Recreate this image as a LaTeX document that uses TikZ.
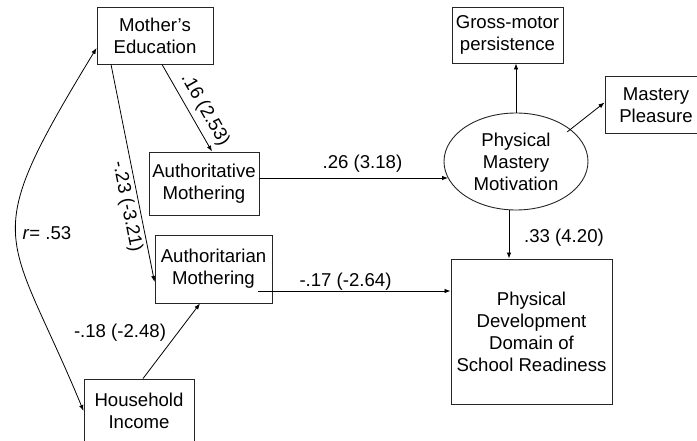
\documentclass[tikz,border=0pt]{standalone}
\usepackage{fontspec}
\setmainfont{Liberation Sans}
\usetikzlibrary{arrows.meta,shapes.geometric}
\begin{document}
\begin{tikzpicture}[x=1pt,y=-1pt,
  every node/.style={font=\fontsize{18.6}{22}\selectfont},
  box/.style={draw=black!85,line width=0.9pt,rectangle,inner sep=0pt,align=center},
  lbl/.style={inner sep=0pt},
  arr/.style={draw=black,line width=0.8pt,-{Latex[length=6pt,width=4.5pt]}},
  ln/.style={draw=black,line width=0.8pt}]
\clip (0,0) rectangle (697,441);
\fill[white] (0,0) rectangle (697,441);
% nodes
\node[box,minimum width=116pt,minimum height=57pt] (me) at (155,35.5) {Mother’s\\Education};
\node[box,minimum width=110pt,minimum height=63pt] (ative) at (204,183.5) {Authoritative\\Mothering};
\node[box,minimum width=117pt,minimum height=68pt] (arian) at (213.5,269) {Authoritarian\\Mothering};
\node[box,minimum width=110pt,minimum height=64pt] (hh) at (139,411) {Household\\Income};
\node[box,minimum width=111pt,minimum height=56pt] (gm) at (507.5,35) {Gross-motor\\persistence};
\node[box,minimum width=102pt,minimum height=57pt] (mp) at (656,105) {Mastery\\Pleasure};
\node[draw=black!85,line width=0.9pt,ellipse,inner sep=0pt,minimum width=144pt,minimum height=97pt,align=center] (pmm) at (516,161.5) {Physical\\Mastery\\Motivation};
\node[box,minimum width=161pt,minimum height=145pt] (pd) at (531.5,331.5) {Physical\\Development\\Domain of\\School Readiness};
% helper coordinates
\coordinate (a1) at (258,291);
\coordinate (b1) at (259,178);
\coordinate (b2) at (448,178);
% connectors
\draw[arr] ([xshift=7pt]me.south) -- ([xshift=8pt]ative.north);
\draw[arr] ([xshift=-44pt]me.south) -- ([yshift=-13pt]arian.west);
\draw[arr] ([xshift=4pt]hh.north) -- ([xshift=-13.5pt]arian.south);
\draw[arr] (b1) -- (b2);
\draw[arr] (a1) -- (a1 -| pd.west);
\draw[arr] (pmm.north) -- (pmm.north |- gm.south);
\draw[arr] ([yshift=-5pt]pmm.north east) -- ([yshift=2.5pt]mp.west);
\draw[arr] ([xshift=-7pt]pmm.south) -- ([xshift=-7pt]pmm.south |- pd.north);
\draw[line width=0.8pt,{Latex[length=6pt,width=4.5pt]}-{Latex[length=6pt,width=4.5pt]}] (hh.west) .. controls (7,226) and (-24,246) .. ([yshift=-12.5pt]me.west);
% labels
\node[lbl,rotate=-60.4] (l1) at (205,110) {.16 (2.53)};
\node[lbl,rotate=-78.6] (l2) at (127,207) {-.23 (-3.21)};
\node[lbl] (l3) at (362.5,164) {.26 (3.18)};
\node[lbl] (l4) at (345.5,282) {-.17 (-2.64)};
\node[lbl] (l5) at (564,238) {.33 (4.20)};
\node[lbl] (l6) at (120,333) {-.18 (-2.48)};
\node[lbl] (l7) at (47,233) {\textit{r}= .53};
\end{tikzpicture}
\end{document}
